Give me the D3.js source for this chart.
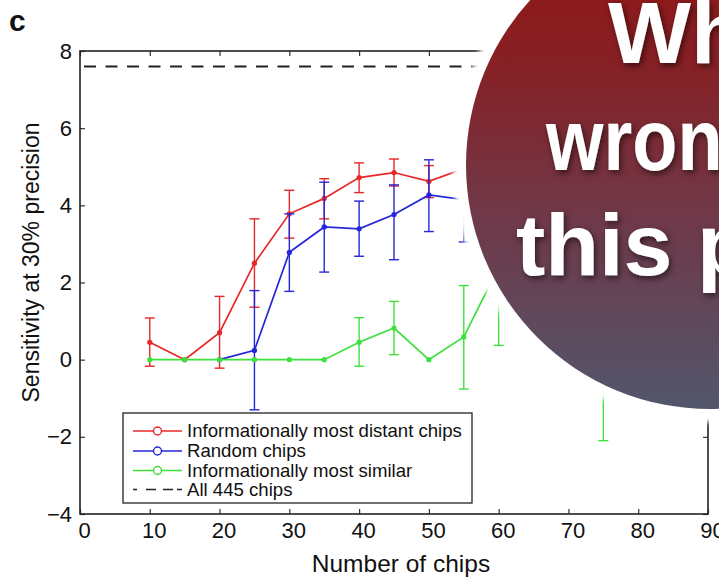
<!DOCTYPE html>
<html><head><meta charset="utf-8">
<script src="https://cdn.jsdelivr.net/npm/d3@7"></script>
<style>body{margin:0;background:#fff}svg{display:block}</style>
</head><body>
<svg id="chart" width="719" height="579"></svg>
<script>
// ---------- data ----------
const xTicks = [0,10,20,30,40,50,60,70,80,90];
const yTicks = [-4,-2,0,2,4,6,8];
const allChipsLevel = 7.6;

const distantChips = [10,15,20,25,30,35,40,45,50,55,60];
const distant      = [0.45,0,0.7,2.5,3.78,4.18,4.72,4.85,4.62,4.95,5.1];
const distantLo    = [-0.17,null,-0.22,1.36,3.15,3.65,4.33,4.5,4.2,4.55,4.6];
const distantHi    = [1.08,null,1.64,3.65,4.39,4.69,5.1,5.2,5.03,5.35,5.5];

const randomChips = [20,25,30,35,40,45,50,55,60];
const random      = [0,0.24,2.78,3.44,3.39,3.76,4.27,4.15,4.3];
const randomLo    = [null,-1.3,1.77,2.27,2.68,2.59,3.32,3.05,3.4];
const randomHi    = [null,1.79,3.78,4.6,4.11,4.53,5.18,5.25,5.2];

const similarChips = [10,15,20,25,30,35,40,45,50,55,60,65,70,75];
const similar      = [0,0,0,0,0,0,0.45,0.82,0,0.59,2.4,1.6,1.0,0.5];
const similarLo    = [null,null,null,null,null,null,-0.17,0.13,null,-0.76,0.37,0.9,0.3,-2.1];
const similarHi    = [null,null,null,null,null,null,1.09,1.51,null,1.92,4.4,2.7,2.2,3.1];

const legendLabels = ["Informationally most distant chips","Random chips","Informationally most similar","All 445 chips"];
const seriesColors = ["#e82828","#2626d8","#3ee03e"];
const overlayLines = ["What's","wrong with","this plot?"];

// ---------- setup ----------
const svg = d3.select("#chart");
const font = "'Liberation Sans', Arial, Helvetica, sans-serif";
const x = d3.scaleLinear([0,90],[80,708]);
const y = d3.scaleLinear([-4,8],[514,51]);

const defs = svg.append("defs");
const grad = defs.append("linearGradient").attr("id","g1")
  .attr("gradientUnits","userSpaceOnUse").attr("x1",0).attr("x2",0).attr("y1",-79).attr("y2",409);
grad.append("stop").attr("offset","0%").attr("stop-color","#94130f");
grad.append("stop").attr("offset","30%").attr("stop-color","#862126");
grad.append("stop").attr("offset","60%").attr("stop-color","#703848");
grad.append("stop").attr("offset","100%").attr("stop-color","#52566c");
const halo = defs.append("filter").attr("id","halo").attr("x","-20%").attr("y","-20%").attr("width","140%").attr("height","140%");
halo.append("feGaussianBlur").attr("stdDeviation",2.5);
const sh = defs.append("filter").attr("id","shadow").attr("x","-20%").attr("y","-20%").attr("width","140%").attr("height","140%");
sh.append("feDropShadow").attr("dx",2).attr("dy",3).attr("stdDeviation",3).attr("flood-color","#000").attr("flood-opacity",0.55);

// panel label
svg.append("text").attr("x",9).attr("y",31).attr("font-family",font).attr("font-weight","bold")
  .attr("font-size",30).attr("fill","#111").text("c");

// axes
const gx = svg.append("g").attr("transform","translate(0,514)")
  .call(d3.axisBottom(x).tickValues(xTicks).tickSizeInner(-5).tickSizeOuter(0).tickPadding(8));
gx.selectAll("text").attr("dx",4);
const gy = svg.append("g").attr("transform","translate(80,0)")
  .call(d3.axisLeft(y).tickValues(yTicks).tickSizeInner(-5).tickSizeOuter(0).tickPadding(8));
const gt = svg.append("g").attr("transform","translate(0,51)")
  .call(d3.axisTop(x).tickValues(xTicks).tickSizeInner(-5).tickSizeOuter(0).tickFormat(""));
const gr = svg.append("g").attr("transform","translate(708,0)")
  .call(d3.axisRight(y).tickValues(yTicks).tickSizeInner(-5).tickSizeOuter(0).tickFormat(""));
[gx,gy,gt,gr].forEach(g=>{
  g.select(".domain").remove();
  g.selectAll("line").attr("stroke","#333").attr("stroke-width",1.2);
  g.selectAll("text").attr("font-family",font).attr("font-size",22).attr("fill","#111");
});
svg.append("rect").attr("x",x(0)).attr("y",y(8)).attr("width",x(90)-x(0)).attr("height",y(-4)-y(8))
  .attr("fill","none").attr("stroke","#222").attr("stroke-width",1.6);

// titles
svg.append("text").attr("x",(x(0)+x(90))/2+7).attr("y",572).attr("text-anchor","middle")
  .attr("font-family",font).attr("font-size",24.5).attr("fill","#111").text("Number of chips");
svg.append("text").attr("transform",`translate(39,${(y(8)+y(-4))/2 - 20}) rotate(-90)`).attr("text-anchor","middle")
  .attr("font-family",font).attr("font-size",23).attr("fill","#111").text("Sensitivity at 30% precision");

// dashed reference
svg.append("line").attr("x1",x(0)+4).attr("x2",x(90)).attr("y1",y(allChipsLevel)).attr("y2",y(allChipsLevel))
  .attr("stroke","#222").attr("stroke-width",2).attr("stroke-dasharray","12,9.5");

// series
function drawSeries(xs, vals, lo, hi, color){
  const g = svg.append("g");
  const pts = xs.map((c,i)=>({c, v:vals[i], lo:lo[i], hi:hi[i]}));
  const eb = pts.filter(p=>p.lo!==null);
  g.selectAll("line.v").data(eb).join("line")
    .attr("x1",p=>x(p.c)).attr("x2",p=>x(p.c)).attr("y1",p=>y(p.lo)).attr("y2",p=>y(p.hi))
    .attr("stroke",color).attr("stroke-width",1.4);
  ["lo","hi"].forEach(k=>{
    g.selectAll("line."+k).data(eb).join("line").attr("class",k)
      .attr("x1",p=>x(p.c)-5).attr("x2",p=>x(p.c)+5).attr("y1",p=>y(p[k])).attr("y2",p=>y(p[k]))
      .attr("stroke",color).attr("stroke-width",1.4);
  });
  g.append("path").attr("d",d3.line().x(p=>x(p.c)).y(p=>y(p.v))(pts))
    .attr("fill","none").attr("stroke",color).attr("stroke-width",1.7);
  g.selectAll("circle").data(pts).join("circle").attr("cx",p=>x(p.c)).attr("cy",p=>y(p.v))
    .attr("r",2.6).attr("fill",color);
}
drawSeries(distantChips, distant, distantLo, distantHi, seriesColors[0]);
drawSeries(randomChips, random, randomLo, randomHi, seriesColors[1]);
drawSeries(similarChips, similar, similarLo, similarHi, seriesColors[2]);

// legend
const lg = svg.append("g");
lg.append("rect").attr("x",123).attr("y",413).attr("width",349).attr("height",90)
  .attr("fill","#fff").attr("stroke","#222").attr("stroke-width",1.3);
const rowY = [431,451,470.5,489.5];
legendLabels.forEach((lab,i)=>{
  if(i<3){
    lg.append("line").attr("x1",133).attr("x2",182).attr("y1",rowY[i]).attr("y2",rowY[i])
      .attr("stroke",seriesColors[i]).attr("stroke-width",1.6);
    lg.append("circle").attr("cx",157.5).attr("cy",rowY[i]).attr("r",4)
      .attr("fill","#fff").attr("stroke",seriesColors[i]).attr("stroke-width",1.4);
  } else {
    lg.append("line").attr("x1",133).attr("x2",182).attr("y1",rowY[i]).attr("y2",rowY[i])
      .attr("stroke","#222").attr("stroke-width",1.6).attr("stroke-dasharray","4,9,10,7,10");
  }
  lg.append("text").attr("x",187).attr("y",rowY[i]+6).attr("font-family",font).attr("font-size",18.6)
    .attr("fill","#111").text(lab);
});

// overlay
const cx = 710, cy = 165, r = 244;
svg.append("circle").attr("cx",cx).attr("cy",cy).attr("r",r+13).attr("fill","#fff").attr("filter","url(#halo)");
svg.append("circle").attr("cx",cx).attr("cy",cy).attr("r",r).attr("fill","url(#g1)");
const tg = svg.append("g").attr("filter","url(#shadow)");
const tx = [608,546,516], ty = [63,170,275], sx = [1,0.84,1];
overlayLines.forEach((t,i)=>{
  tg.append("text").attr("transform",`translate(${tx[i]},${ty[i]}) scale(${sx[i]},1)`)
    .attr("font-family",font).attr("font-weight","bold")
    .attr("font-size",88).attr("fill","#fff").text(t);
});
</script>
</body></html>
